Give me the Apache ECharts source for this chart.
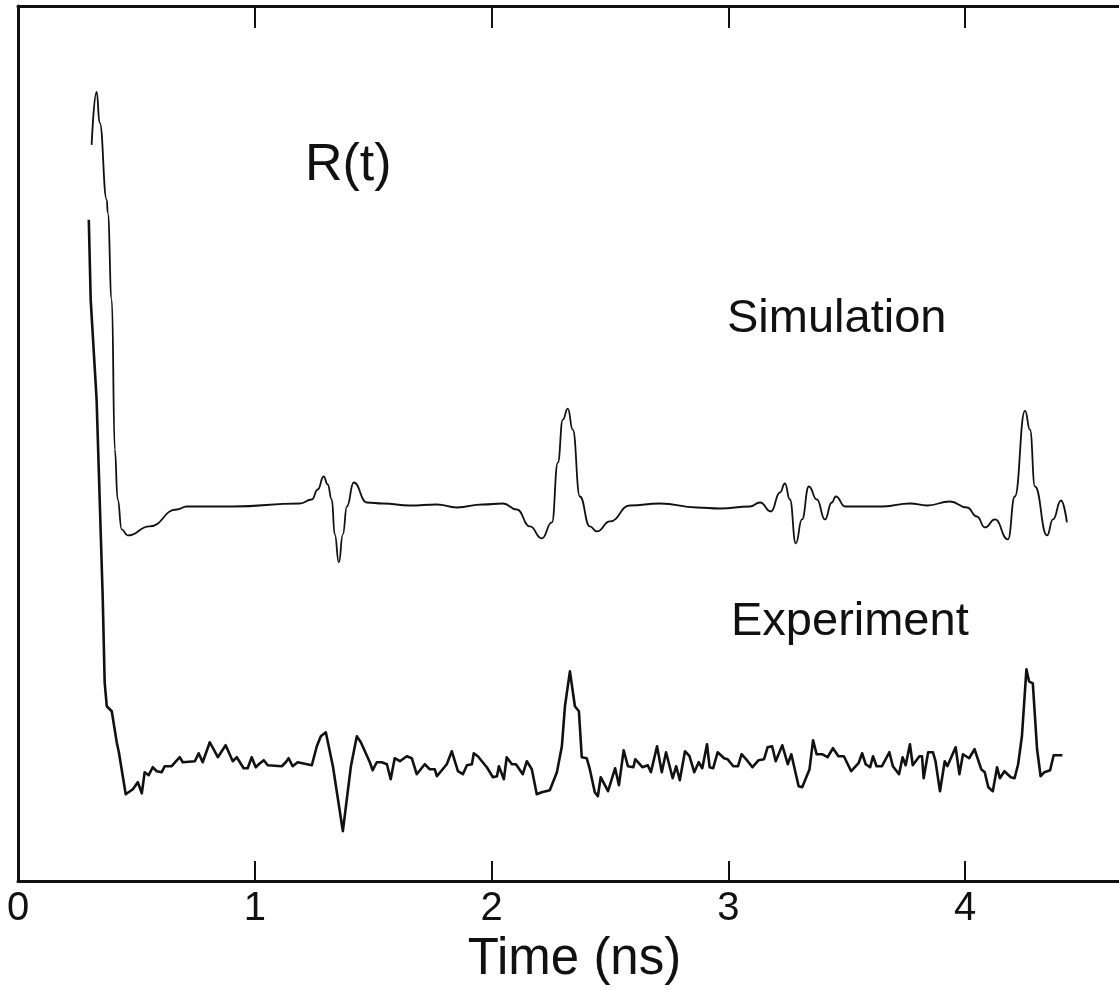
<!DOCTYPE html>
<html>
<head>
<meta charset="utf-8">
<script src="https://cdn.jsdelivr.net/npm/echarts@6/dist/echarts.min.js"></script>
<style>
html,body{margin:0;padding:0;background:#fff;}
#chart{width:1119px;height:990px;}
</style>
</head>
<body>
<div id="chart"></div>
<script>
// Time axis (ns)
const tickValues = [0, 1, 2, 3, 4];
const tickLabels = ['0', '1', '2', '3', '4'];
const innerTicks = [1, 2, 3, 4];

// Simulation R(t), arbitrary units
const simT = [0.311,0.332,0.345,0.375,0.379,0.396,0.409,0.421,0.438,0.463,0.556,0.670,0.713,0.907,1.190,1.241,1.266,1.291,1.308,1.325,1.338,1.355,1.372,1.389,1.418,1.473,1.541,1.655,1.769,1.853,1.963,2.048,2.107,2.162,2.212,2.255,2.280,2.301,2.322,2.343,2.373,2.415,2.445,2.500,2.584,2.711,2.867,2.965,3.091,3.134,3.180,3.218,3.239,3.260,3.285,3.311,3.340,3.374,3.408,3.437,3.454,3.493,3.653,3.767,3.839,3.936,4.008,4.050,4.084,4.126,4.181,4.210,4.253,4.274,4.295,4.346,4.371,4.405,4.430];
const simR = [7.37,7.90,7.59,6.82,6.69,5.82,4.32,3.82,3.52,3.46,3.55,3.72,3.75,3.75,3.78,3.82,3.92,4.05,3.97,3.82,3.47,3.19,3.47,3.75,3.99,3.79,3.78,3.76,3.77,3.74,3.77,3.78,3.72,3.55,3.43,3.59,4.19,4.62,4.73,4.52,3.85,3.55,3.50,3.60,3.76,3.78,3.74,3.73,3.75,3.79,3.70,3.89,3.98,3.82,3.38,3.62,3.95,3.82,3.62,3.79,3.85,3.75,3.75,3.78,3.76,3.80,3.74,3.65,3.54,3.62,3.42,3.85,4.71,4.52,3.95,3.46,3.62,3.81,3.59];

// Experiment R(t), arbitrary units
const expT = [0.299,0.307,0.332,0.345,0.358,0.366,0.375,0.396,0.417,0.426,0.455,0.485,0.506,0.523,0.535,0.552,0.569,0.586,0.607,0.620,0.649,0.683,0.696,0.747,0.763,0.780,0.810,0.844,0.877,0.907,0.924,0.953,0.970,0.987,1.004,1.017,1.038,1.055,1.114,1.131,1.143,1.160,1.181,1.241,1.262,1.279,1.300,1.330,1.372,1.406,1.431,1.448,1.456,1.486,1.498,1.515,1.536,1.558,1.574,1.591,1.613,1.642,1.663,1.684,1.718,1.739,1.760,1.769,1.811,1.832,1.858,1.879,1.896,1.917,1.925,1.942,1.980,2.006,2.023,2.031,2.052,2.064,2.086,2.103,2.132,2.149,2.170,2.191,2.212,2.246,2.276,2.297,2.310,2.331,2.352,2.369,2.381,2.402,2.415,2.436,2.449,2.461,2.492,2.522,2.538,2.558,2.576,2.599,2.607,2.637,2.660,2.673,2.699,2.719,2.737,2.765,2.780,2.795,2.817,2.836,2.856,2.875,2.890,2.910,2.921,2.936,2.955,2.982,2.997,3.021,3.041,3.056,3.082,3.102,3.128,3.151,3.166,3.185,3.200,3.228,3.251,3.266,3.297,3.312,3.343,3.358,3.373,3.396,3.419,3.442,3.465,3.488,3.519,3.550,3.565,3.580,3.599,3.611,3.626,3.649,3.680,3.695,3.721,3.736,3.749,3.767,3.779,3.807,3.818,3.825,3.844,3.864,3.875,3.894,3.914,3.925,3.960,3.976,3.991,4.017,4.040,4.068,4.083,4.098,4.117,4.135,4.147,4.166,4.193,4.209,4.224,4.240,4.259,4.270,4.286,4.304,4.319,4.335,4.359,4.374,4.411];
const expR = [6.62,5.82,4.82,3.82,2.82,1.99,1.75,1.70,1.39,1.29,0.87,0.92,0.99,0.88,1.09,1.06,1.14,1.10,1.09,1.15,1.15,1.24,1.19,1.20,1.28,1.19,1.39,1.24,1.36,1.20,1.24,1.13,1.13,1.24,1.14,1.17,1.21,1.16,1.15,1.19,1.23,1.15,1.19,1.16,1.35,1.45,1.49,1.15,0.50,1.15,1.45,1.39,1.40,1.19,1.11,1.19,1.19,1.17,1.02,1.23,1.20,1.25,1.23,1.07,1.17,1.12,1.12,1.05,1.17,1.30,1.10,1.07,1.16,1.17,1.28,1.25,1.14,1.04,1.05,1.15,1.02,1.24,1.17,1.17,1.07,1.20,1.12,0.87,0.89,0.91,1.09,1.35,1.75,2.10,1.75,1.70,1.24,1.23,1.12,0.89,0.85,1.04,0.90,1.13,0.96,1.31,1.15,1.14,1.22,1.14,1.16,1.09,1.35,1.09,1.29,1.03,1.15,1.01,1.30,1.25,1.09,1.19,1.13,1.37,1.14,1.13,1.29,1.23,1.22,1.15,1.15,1.27,1.20,1.14,1.21,1.22,1.34,1.35,1.20,1.36,1.17,1.27,0.95,0.94,1.12,1.41,1.27,1.27,1.24,1.33,1.25,1.25,1.10,1.18,1.28,1.17,1.14,1.25,1.15,1.15,1.29,1.15,1.07,1.24,1.16,1.37,1.16,1.25,1.25,1.03,1.29,1.29,1.20,0.90,1.20,1.15,1.34,1.07,1.27,1.23,1.32,1.12,1.09,0.94,0.90,1.14,1.03,1.10,1.04,1.03,1.17,1.45,2.12,2.00,1.98,1.32,1.05,1.09,1.11,1.26,1.26];

const xMin = 0, xMax = 4.65, yMin = 0, yMax = 8.76;

const simData = simT.map((t, i) => [t, simR[i]]);
const expData = expT.map((t, i) => [t, expR[i]]);

const FONT = "'Liberation Sans', Arial, sans-serif";
const INK = '#111';

const chart = echarts.init(document.getElementById('chart'), null, {renderer: 'canvas'});
chart.setOption({
  animation: false,
  backgroundColor: '#fff',
  grid: {left: 18, right: 0, top: 6, bottom: 108, containLabel: false},
  xAxis: [{
    type: 'value', min: xMin, max: xMax, position: 'bottom',
    axisLine: {show: true, onZero: false, lineStyle: {color: INK, width: 3}},
    axisTick: {show: true, inside: true, length: 20, customValues: innerTicks, lineStyle: {color: INK, width: 2}},
    axisLabel: {show: true, customValues: tickValues, margin: 8, fontSize: 40, fontFamily: FONT, color: INK,
      formatter: v => tickLabels[tickValues.indexOf(Math.round(v))] || ''},
    splitLine: {show: false},
    name: 'Time (ns)', nameLocation: 'middle', nameGap: 52,
    nameTextStyle: {fontSize: 51, fontFamily: FONT, color: INK, padding: [0, 0, 0, 12]}
  }, {
    type: 'value', min: xMin, max: xMax, position: 'top',
    axisLine: {show: true, onZero: false, lineStyle: {color: INK, width: 3}},
    axisTick: {show: true, inside: true, length: 22, customValues: innerTicks, lineStyle: {color: INK, width: 2}},
    axisLabel: {show: false},
    splitLine: {show: false}
  }],
  yAxis: {
    type: 'value', min: yMin, max: yMax,
    axisLine: {show: true, onZero: false, lineStyle: {color: INK, width: 3}},
    axisTick: {show: false}, axisLabel: {show: false}, splitLine: {show: false}
  },
  series: [{
    name: 'Simulation', type: 'line', data: simData, showSymbol: false,
    smooth: 0.5, smoothMonotone: 'x',
    lineStyle: {color: INK, width: 1.8}
  }, {
    name: 'Experiment', type: 'line', data: expData, showSymbol: false,
    lineStyle: {color: INK, width: 2.6, join: 'round'}
  }],
  graphic: [
    {type: 'text', left: 305, top: 140, style: {text: 'R(t)', font: "52px " + FONT, fill: INK}},
    {type: 'text', left: 727, top: 296, style: {text: 'Simulation', font: "47px " + FONT, fill: INK}},
    {type: 'text', left: 731, top: 599, style: {text: 'Experiment', font: "47px " + FONT, fill: INK}}
  ]
});
</script>
</body>
</html>
